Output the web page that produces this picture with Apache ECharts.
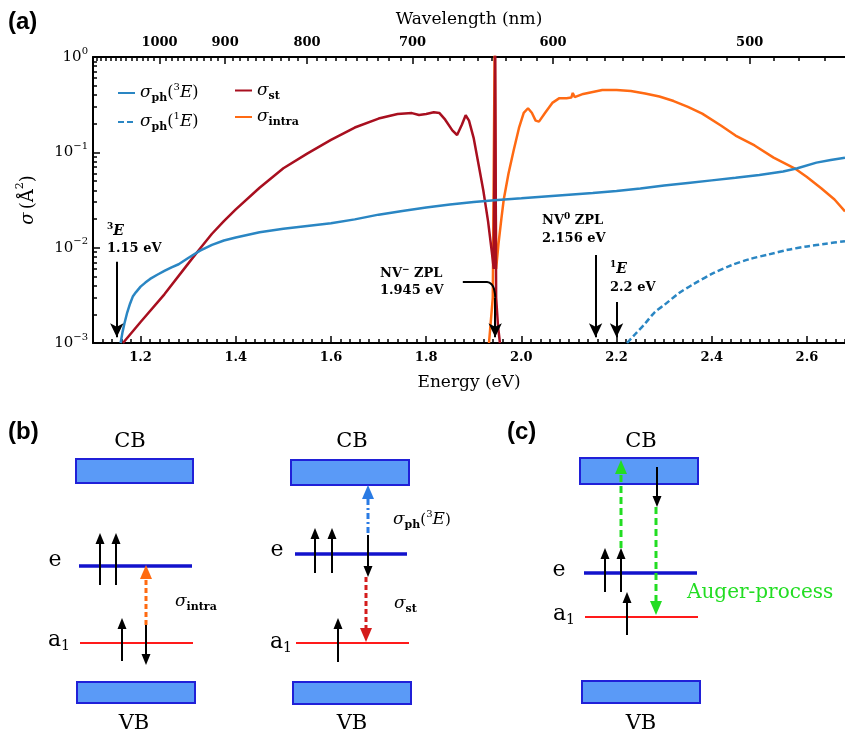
<!DOCTYPE html>
<html>
<head>
<meta charset="utf-8">
<script src="https://cdn.jsdelivr.net/npm/echarts@6/dist/echarts.min.js"></script>
<style>
html, body { margin: 0; padding: 0; background: #fff; }
#main { width: 845px; height: 738px; }
</style>
</head>
<body>
<div id="main"></div>
<script>
var SERIF = "'DejaVu Serif', serif";
var SANS = "'Liberation Sans', Arial, sans-serif";
var HC = 1239.84; // eV*nm

// ---- panel (a) data: [energy (eV), sigma (Å^2)]
var energyMajor = [1.2, 1.4, 1.6, 1.8, 2.0, 2.2, 2.4, 2.6];
var wavelengthMajor = [1000, 900, 800, 700, 600, 500];
var sigmaPh3E = [[1.158,0.001],[1.162,0.0013],[1.166,0.0016],[1.172,0.0021],[1.178,0.0026],[1.184,0.0031],
  [1.19,0.0034],[1.20,0.0039],[1.21,0.0043],[1.22,0.0047],[1.235,0.0052],[1.25,0.0057],[1.265,0.0062],
  [1.28,0.0067],[1.30,0.0078],[1.325,0.0093],[1.35,0.0107],[1.375,0.0119],[1.40,0.0128],[1.45,0.0145],
  [1.50,0.0158],[1.55,0.0169],[1.60,0.0180],[1.65,0.0198],[1.70,0.0222],[1.75,0.0243],[1.80,0.0264],
  [1.85,0.0283],[1.90,0.0301],[1.95,0.0317],[2.00,0.0330],[2.05,0.0345],[2.10,0.0360],[2.15,0.0375],
  [2.20,0.0392],[2.25,0.0418],[2.30,0.0448],[2.35,0.0478],[2.40,0.0508],[2.45,0.0540],[2.50,0.0578],
  [2.55,0.0630],[2.58,0.0680],[2.62,0.0780],[2.65,0.0830],[2.68,0.0880]];
var sigmaPh1E = [[2.222,0.001],[2.24,0.00125],[2.26,0.0016],[2.28,0.0021],[2.30,0.0025],[2.33,0.0033],
  [2.36,0.0041],[2.40,0.0053],[2.44,0.0065],[2.48,0.0076],[2.52,0.0085],[2.56,0.0095],[2.60,0.0103],
  [2.64,0.0110],[2.68,0.0117]];
var sigmaSt = [[1.163,0.001],[1.20,0.00166],[1.25,0.00324],[1.30,0.0068],[1.325,0.0098],[1.35,0.0140],
  [1.375,0.0190],[1.40,0.0252],[1.45,0.0425],[1.50,0.0680],[1.55,0.0970],[1.60,0.135],[1.65,0.182],
  [1.70,0.226],[1.74,0.252],[1.77,0.258],[1.785,0.246],[1.80,0.252],[1.816,0.263],[1.828,0.258],
  [1.84,0.220],[1.855,0.170],[1.865,0.152],[1.875,0.195],[1.883,0.245],[1.89,0.215],[1.90,0.140],
  [1.91,0.075],[1.92,0.040],[1.93,0.019],[1.938,0.009],[1.942,0.006],[1.945,1.5],[1.947,0.003],
  [1.951,0.0015],[1.955,0.001]];
var sigmaIntra = [[1.932,0.001],[1.940,0.003],[1.944,1.5],[1.947,0.006],[1.952,0.011],[1.958,0.020],
  [1.963,0.032],[1.973,0.060],[1.984,0.106],[1.995,0.180],[2.005,0.260],[2.014,0.290],[2.022,0.260],
  [2.030,0.215],[2.037,0.210],[2.050,0.260],[2.065,0.330],[2.080,0.370],[2.095,0.370],[2.105,0.375],
  [2.108,0.420],[2.112,0.380],[2.13,0.410],[2.15,0.430],[2.17,0.450],[2.20,0.450],[2.23,0.440],
  [2.26,0.415],[2.29,0.385],[2.32,0.345],[2.35,0.300],[2.38,0.255],[2.42,0.190],[2.45,0.150],
  [2.49,0.118],[2.53,0.088],[2.574,0.068],[2.60,0.055],[2.63,0.042],[2.658,0.032],[2.68,0.024]];
// transition markers: [energy, arrow start sigma]
var zplMarks = [[1.15, 0.0071], [2.156, 0.0084], [2.2, 0.0027], [1.945, 0.0030]];
var nvMinusPath = [[1.877,0.00436],[1.928,0.00436],[1.938,0.0041],[1.943,0.0036],[1.945,0.0030]];
var arrowTip = 0.00115;

// ---- panels (b), (c): schematic level diagrams (diagram units)
var bandBoxes = [[76,459,193,483],[77,682,195,703],[291,460,409,485],[293,682,411,704],
  [580,458,698,484],[582,681,700,703]];
var eLevels = [[79,566,192],[295,554,407],[584,573,697]];
var a1Levels = [[80,643,193],[296,643,409],[585,617,698]];
var spinArrows = [ // [x, from, to, kind]
  [100,585,533,'k'],[116,585,533,'k'],[122,661,618,'k'],[146,625,665,'k'],[146,625,565,'orange'],
  [315,573,528,'k'],[332,573,528,'k'],[368,533,485,'blue'],[368,535,577,'k'],[366,577,642,'red'],[338,662,618,'k'],
  [605,592,548,'k'],[621,592,548,'k'],[627,635,592,'k'],[621,548,460,'green'],[657,467,507,'k'],[656,507,615,'green']
];
var arrowKinds = {
  k: {color:'#000', width:2, dash:null, hl:11, hw:4.5},
  orange: {color:'#ff6a10', width:3, dash:[5,3], hl:14, hw:6},
  blue: {color:'#2a7be4', width:3, dash:[6,3,2,3], hl:14, hw:6},
  red: {color:'#d41c1c', width:3, dash:[5,3], hl:14, hw:6},
  green: {color:'#22dd22', width:3, dash:[7,4], hl:14, hw:6}
};

var C_BLUE = '#2a86c3', C_RED = '#a80f1f', C_ORANGE = '#ff6a13';

function range(a, b, s) { var r = []; for (var v = a; v <= b + 1e-9; v += s) r.push(+v.toFixed(4)); return r; }
var energyMinor = range(1.10, 2.68, 0.02);
var wlMinor = range(470, 1120, 10).map(function (l) { return HC / l; });
var sigmaMinor = [];
[-3, -2, -1].forEach(function (d) { for (var k = 2; k <= 9; k++) sigmaMinor.push(+(k * Math.pow(10, d)).toPrecision(3)); });

var richSig = {
  i: {fontFamily: SERIF, fontStyle: 'italic', fontSize: 17, lineHeight: 22, color: '#000'},
  sb: {fontFamily: SERIF, fontWeight: 'bold', fontSize: 11, lineHeight: 13, verticalAlign: 'bottom', color: '#000'},
  p: {fontFamily: SERIF, fontSize: 16, lineHeight: 22, color: '#000'},
  u: {fontFamily: SERIF, fontSize: 10, lineHeight: 14, verticalAlign: 'top', color: '#000'}
};
var legendNames = {
  ph3E: '{i|σ}{sb|ph}{p|(}{u|3}{i|E}{p|)}',
  ph1E: '{i|σ}{sb|ph}{p|(}{u|1}{i|E}{p|)}',
  st: '{i|σ}{sb|st}',
  intra: '{i|σ}{sb|intra}'
};

var axisBlack = {color: '#000', width: 2};
var tickStyle = {color: '#000', width: 1.5};

function txt(x, y, text, o) {
  var st = {text: text, fill: '#000', align: 'left', verticalAlign: 'middle', fontFamily: SERIF, fontSize: 13};
  for (var k in o) st[k] = o[k];
  return {type: 'text', x: x, y: y, z: 100, style: st};
}
var richAnn = {
  b: {fontFamily: SERIF, fontWeight: 'bold', fontSize: 13, lineHeight: 18},
  u: {fontFamily: SERIF, fontWeight: 'bold', fontSize: 9, lineHeight: 11, verticalAlign: 'top'},
  e: {fontFamily: SERIF, fontWeight: 'bold', fontStyle: 'italic', fontSize: 14, lineHeight: 18}
};
var richDiag = {
  i: {fontFamily: SERIF, fontStyle: 'italic', fontSize: 17, lineHeight: 22},
  sb: {fontFamily: SERIF, fontWeight: 'bold', fontSize: 11, lineHeight: 13, verticalAlign: 'bottom'},
  p: {fontFamily: SERIF, fontSize: 15, lineHeight: 22},
  u: {fontFamily: SERIF, fontSize: 10, lineHeight: 13, verticalAlign: 'top'},
  n: {fontFamily: SERIF, fontSize: 22, lineHeight: 26},
  s: {fontFamily: SERIF, fontSize: 14, lineHeight: 26, verticalAlign: 'bottom'}
};

var legendBase = {orient: 'vertical', top: 77, itemWidth: 17, itemHeight: 14, itemGap: 7,
  itemStyle: {opacity: 0},
  formatter: function (n) { return legendNames[n]; }, textStyle: {rich: richSig}};
function legendAt(left, names) {
  var l = {left: left, data: names};
  for (var k in legendBase) l[k] = legendBase[k];
  return l;
}

var chart = echarts.init(document.getElementById('main'));
chart.setOption({
  animation: false,
  backgroundColor: '#fff',
  grid: [
    {left: 93, top: 57, width: 752, height: 286},
    {left: 0, top: 400, width: 845, height: 338}
  ],
  legend: [legendAt(112, ['ph3E', 'ph1E']), legendAt(229, ['st', 'intra'])],
  xAxis: [
    {type: 'value', gridIndex: 0, position: 'bottom', min: 1.1, max: 2.68,
     name: 'Energy (eV)', nameLocation: 'middle', nameGap: 31,
     nameTextStyle: {fontFamily: SERIF, fontSize: 17, color: '#000'},
     axisLine: {show: true, onZero: false, lineStyle: axisBlack},
     axisTick: {show: true, inside: true, length: 7, lineStyle: tickStyle, customValues: energyMajor},
     axisLabel: {customValues: energyMajor, formatter: function (v) { return v.toFixed(1); },
       fontFamily: SERIF, fontWeight: 'bold', fontSize: 13, color: '#000', margin: 8},
     splitLine: {show: false}},
    {type: 'value', gridIndex: 0, position: 'bottom', min: 1.1, max: 2.68,
     axisLine: {show: false, onZero: false},
     axisTick: {show: true, inside: true, length: 4, lineStyle: tickStyle, customValues: energyMinor},
     axisLabel: {show: false}, splitLine: {show: false}},
    {type: 'value', gridIndex: 0, position: 'top', min: 1.1, max: 2.68,
     name: 'Wavelength (nm)', nameLocation: 'middle', nameGap: 29,
     nameTextStyle: {fontFamily: SERIF, fontSize: 17, color: '#000'},
     axisLine: {show: true, onZero: false, lineStyle: axisBlack},
     axisTick: {show: true, inside: true, length: 7, lineStyle: tickStyle,
       customValues: wavelengthMajor.map(function (l) { return HC / l; })},
     axisLabel: {customValues: wavelengthMajor.map(function (l) { return HC / l; }),
       formatter: function (v) { return Math.round(HC / v); },
       fontFamily: SERIF, fontWeight: 'bold', fontSize: 13, color: '#000', margin: 8},
     splitLine: {show: false}},
    {type: 'value', gridIndex: 0, position: 'top', min: 1.1, max: 2.68,
     axisLine: {show: false, onZero: false},
     axisTick: {show: true, inside: true, length: 4, lineStyle: tickStyle, customValues: wlMinor},
     axisLabel: {show: false}, splitLine: {show: false}},
    {type: 'value', gridIndex: 1, min: 0, max: 845, show: false}
  ],
  yAxis: [
    {type: 'log', logBase: 10, gridIndex: 0, position: 'left', min: 0.001, max: 1,
     name: '{i|σ} {p|(Å}{u|2}{p|)}', nameLocation: 'middle', nameGap: 52, nameRotate: 90,
     nameTextStyle: {rich: {
       i: {fontFamily: SERIF, fontStyle: 'italic', fontSize: 18, lineHeight: 26},
       p: {fontFamily: SERIF, fontSize: 18, lineHeight: 26},
       u: {fontFamily: SERIF, fontSize: 11, lineHeight: 14, verticalAlign: 'top'}}},
     axisLine: {show: true, onZero: false, lineStyle: axisBlack},
     axisTick: {show: true, inside: true, length: 7, lineStyle: tickStyle},
     axisLabel: {margin: 5, formatter: function (v) {
         var e = Math.round(Math.log10(v));
         return '{b|10}{s|' + (e < 0 ? '\u2212' + (-e) : e) + '}';
       },
       rich: {b: {fontFamily: SERIF, fontSize: 15, lineHeight: 22, color: '#000'},
              s: {fontFamily: SERIF, fontSize: 10, lineHeight: 12, verticalAlign: 'top', color: '#000'}}},
     splitLine: {show: false}},
    {type: 'log', logBase: 10, gridIndex: 0, position: 'left', min: 0.001, max: 1,
     axisLine: {show: false, onZero: false},
     axisTick: {show: true, inside: true, length: 4, lineStyle: tickStyle, customValues: sigmaMinor},
     axisLabel: {show: false}, splitLine: {show: false}},
    {type: 'value', gridIndex: 1, min: 400, max: 738, inverse: true, show: false}
  ],
  series: [
    {name: 'intra', type: 'line', data: sigmaIntra, symbol: 'none', color: C_ORANGE,
     lineStyle: {width: 2.5, color: C_ORANGE}},
    {name: 'st', type: 'line', data: sigmaSt, symbol: 'none', color: C_RED,
     lineStyle: {width: 2.5, color: C_RED}},
    {name: 'ph1E', type: 'line', data: sigmaPh1E, symbol: 'none', color: C_BLUE, smooth: 0.3,
     lineStyle: {width: 2.5, color: C_BLUE, type: [6, 3]}},
    {name: 'ph3E', type: 'line', data: sigmaPh3E, symbol: 'none', color: C_BLUE,
     lineStyle: {width: 2.5, color: C_BLUE}},
    {name: 'nvpath', type: 'line', data: nvMinusPath, symbol: 'none', smooth: 0.5, z: 5,
     lineStyle: {width: 2, color: '#000'},
     markLine: {silent: true, animation: false, symbol: ['none', 'arrow'], symbolSize: [10, 14],
       label: {show: false}, lineStyle: {color: '#000', width: 2, type: 'solid'},
       data: zplMarks.map(function (m) { return [{coord: [m[0], m[1]]}, {coord: [m[0], arrowTip]}]; })}},
    {type: 'custom', xAxisIndex: 4, yAxisIndex: 2, silent: true, data: bandBoxes,
     renderItem: function (p, api) {
       var a = api.coord([api.value(0), api.value(1)]), b = api.coord([api.value(2), api.value(3)]);
       return {type: 'rect', shape: {x: a[0], y: a[1], width: b[0] - a[0], height: b[1] - a[1]},
         style: {fill: '#5a9af7', stroke: '#2020d8', lineWidth: 2}};
     }},
    {type: 'custom', xAxisIndex: 4, yAxisIndex: 2, silent: true, data: eLevels.concat(a1Levels),
     renderItem: function (p, api) {
       var a = api.coord([api.value(0), api.value(1)]), b = api.coord([api.value(2), api.value(1)]);
       var isE = p.dataIndex < eLevels.length;
       return {type: 'line', shape: {x1: a[0], y1: a[1], x2: b[0], y2: b[1]},
         style: {stroke: isE ? '#1212cc' : '#ff1a1a', lineWidth: isE ? 3.5 : 2}};
     }},
    {type: 'custom', xAxisIndex: 4, yAxisIndex: 2, silent: true, z: 4,
     data: spinArrows.map(function (a) { return [a[0], a[1], a[2]]; }),
     renderItem: function (p, api) {
       var k = arrowKinds[spinArrows[p.dataIndex][3]];
       var s = api.coord([api.value(0), api.value(1)]), t = api.coord([api.value(0), api.value(2)]);
       var dir = t[1] > s[1] ? 1 : -1;
       var base = t[1] - dir * k.hl;
       return {type: 'group', children: [
         {type: 'line', shape: {x1: s[0], y1: s[1], x2: t[0], y2: base},
          style: {stroke: k.color, lineWidth: k.width, lineDash: k.dash}},
         {type: 'polygon', shape: {points: [[t[0], t[1]], [t[0] - k.hw, base], [t[0] + k.hw, base]]},
          style: {fill: k.color}}
       ]};
     }}
  ],
  graphic: [
    txt(8, 22, '(a)', {fontFamily: SANS, fontWeight: 'bold', fontSize: 24}),
    txt(8, 432, '(b)', {fontFamily: SANS, fontWeight: 'bold', fontSize: 24}),
    txt(507, 432, '(c)', {fontFamily: SANS, fontWeight: 'bold', fontSize: 24}),
    txt(107, 231, '{u|3}{e|E}', {rich: richAnn}),
    txt(107, 249, '1.15 eV', {fontWeight: 'bold'}),
    txt(380, 274, '{b|NV}{u|\u2212}{b| ZPL}', {rich: richAnn}),
    txt(380, 291, '1.945 eV', {fontWeight: 'bold'}),
    txt(542, 221, '{b|NV}{u|0}{b| ZPL}', {rich: richAnn}),
    txt(542, 239, '2.156 eV', {fontWeight: 'bold'}),
    txt(610, 269, '{u|1}{e|E}', {rich: richAnn}),
    txt(610, 288, '2.2 eV', {fontWeight: 'bold'}),
    // diagram labels
    txt(130, 442, 'CB', {fontSize: 21, align: 'center'}),
    txt(352, 442, 'CB', {fontSize: 21, align: 'center'}),
    txt(641, 442, 'CB', {fontSize: 21, align: 'center'}),
    txt(134, 724, 'VB', {fontSize: 21, align: 'center'}),
    txt(352, 724, 'VB', {fontSize: 21, align: 'center'}),
    txt(641, 724, 'VB', {fontSize: 21, align: 'center'}),
    txt(55, 560, 'e', {fontSize: 22, align: 'center'}),
    txt(277, 550, 'e', {fontSize: 22, align: 'center'}),
    txt(559, 570, 'e', {fontSize: 22, align: 'center'}),
    txt(48, 640, '{n|a}{s|1}', {rich: richDiag}),
    txt(270, 642, '{n|a}{s|1}', {rich: richDiag}),
    txt(553, 614, '{n|a}{s|1}', {rich: richDiag}),
    txt(175, 602, '{i|σ}{sb|intra}', {rich: richDiag}),
    txt(393, 520, '{i|σ}{sb|ph}{p|(}{u|3}{i|E}{p|)}', {rich: richDiag}),
    txt(394, 604, '{i|σ}{sb|st}', {rich: richDiag}),
    txt(687, 593, 'Auger-process', {fontSize: 20, fill: '#22dd22'})
  ]
});
</script>
</body>
</html>
